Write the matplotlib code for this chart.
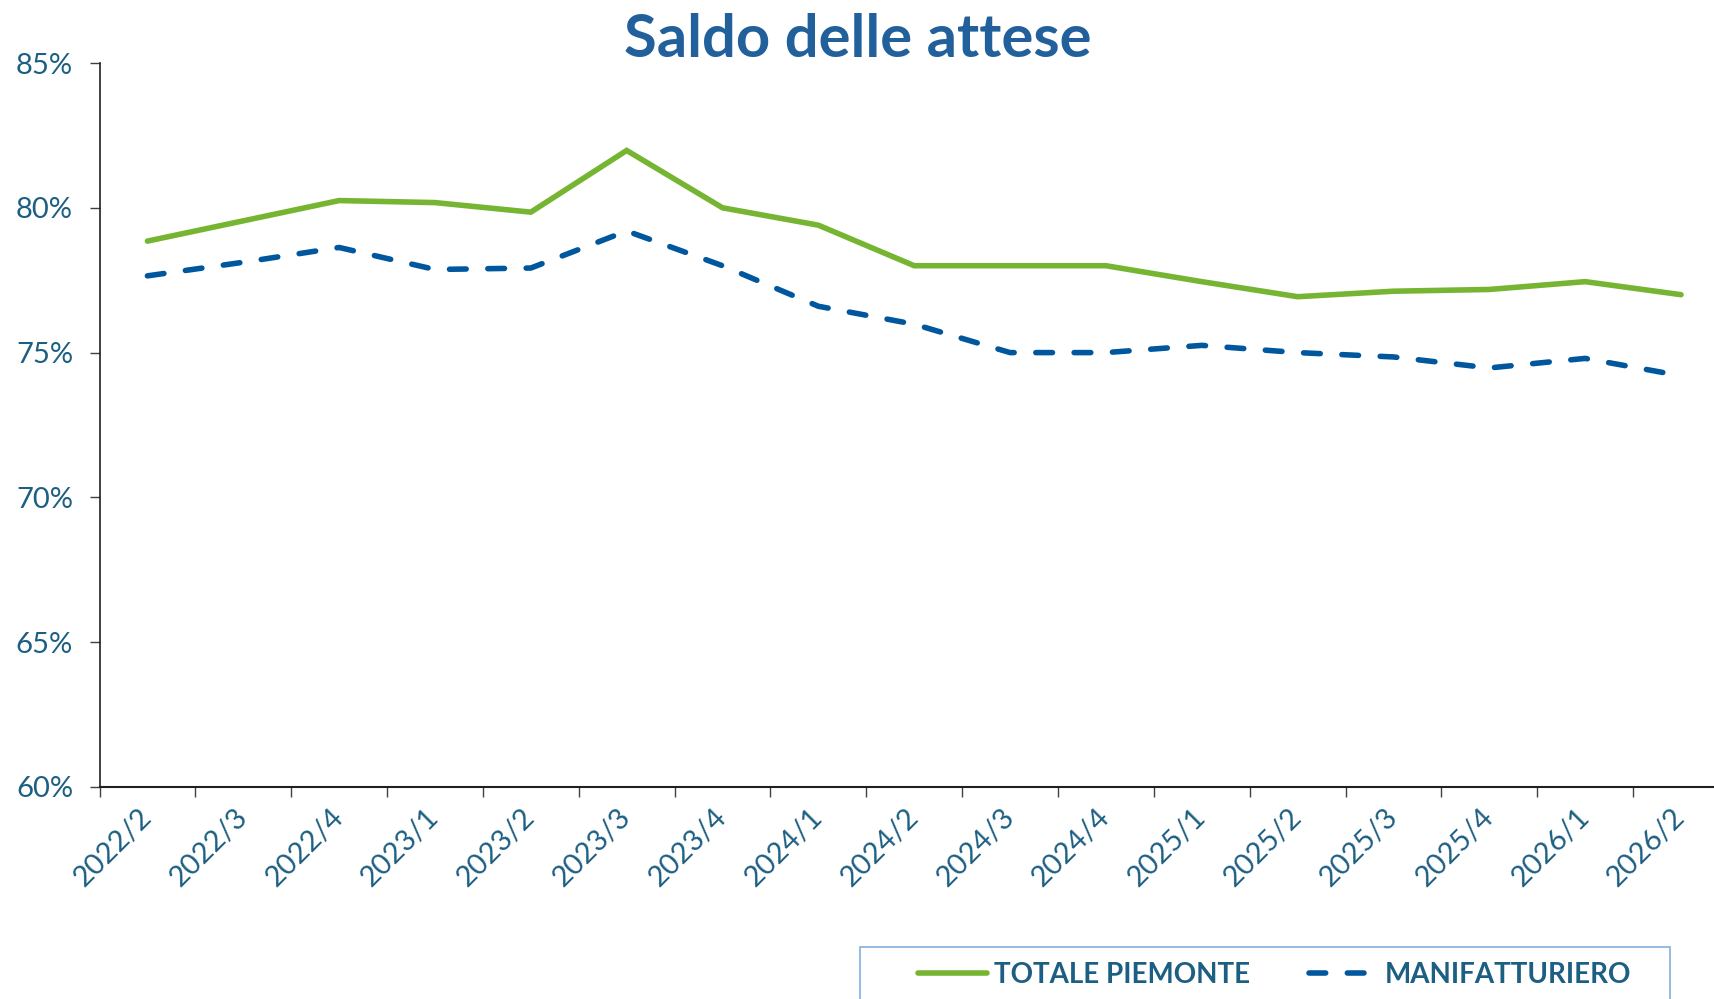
import matplotlib
matplotlib.use("Agg")
import matplotlib.pyplot as plt
from matplotlib.patches import Rectangle
from matplotlib.ticker import FuncFormatter

categories = ["2022/2", "2022/3", "2022/4", "2023/1", "2023/2", "2023/3", "2023/4",
              "2024/1", "2024/2", "2024/3", "2024/4", "2025/1", "2025/2", "2025/3",
              "2025/4", "2026/1", "2026/2"]
totale_piemonte = [78.85, 79.55, 80.25, 80.18, 79.85, 81.98, 80.0, 79.4, 78.0, 78.0,
                   78.0, 77.45, 76.93, 77.12, 77.18, 77.45, 77.0]
manifatturiero = [77.65, 78.12, 78.63, 77.87, 77.92, 79.2, 78.0, 76.6, 75.98, 75.0,
                  75.0, 75.25, 75.0, 74.85, 74.47, 74.8, 74.2]
y_ticks = [60, 65, 70, 75, 80, 85]
series_names = ["TOTALE PIEMONTE", "MANIFATTURIERO"]
title_text = "Saldo delle attese"

plt.rcParams['font.family'] = ['Lato', 'DejaVu Sans']

W, H = 1714, 999
fig = plt.figure(figsize=(W / 100, H / 100), dpi=100)
left_px, right_px = 99.5, 99.5 + 17 * 95.85
top_px, bottom_px = 63, 787
ax = fig.add_axes([left_px / W, 1 - bottom_px / H, (right_px - left_px) / W, (bottom_px - top_px) / H])

green = "#76B531"
blue = "#00579E"
label_col = "#1D5F82"
title_col = "#22609C"

x = list(range(len(categories)))
ax.plot(x, totale_piemonte, color=green, lw=4.0, solid_capstyle='round', solid_joinstyle='miter',
        label=series_names[0], clip_on=False)
ax.plot(x, manifatturiero, color=blue, lw=4.0, dashes=(3, 3.9), dash_capstyle='round',
        label=series_names[1], clip_on=False)

ax.set_xlim(-0.5, len(categories) - 0.5)
ax.set_ylim(60, 85)
ax.set_yticks(y_ticks)
ax.yaxis.set_major_formatter(FuncFormatter(lambda v, p: f"{v:.0f}%"))

ax.set_xticks([i - 0.5 for i in range(len(categories) + 1)])
ax.set_xticklabels([])
ax.set_xticks(x, categories, minor=True)
ax.tick_params(axis='x', which='major', length=7, width=1, color='#404040', direction='out')
ax.tick_params(axis='x', which='minor', length=0, pad=19, labelsize=21, labelcolor=label_col)
for lbl in ax.get_xticklabels(minor=True):
    lbl.set_rotation(45)
    lbl.set_rotation_mode('anchor')
    lbl.set_ha('right')
    lbl.set_va('center')
ax.tick_params(axis='y', length=7, width=1, color='#404040', labelsize=21, labelcolor=label_col, pad=12)

for s in ['top', 'right']:
    ax.spines[s].set_visible(False)
ax.spines['left'].set_color('#202020')
ax.spines['bottom'].set_color('#202020')
ax.spines['left'].set_linewidth(1.2)
ax.spines['bottom'].set_linewidth(1.5)

fig.text(858 / W, 1 - 40 / H, title_text, ha='center', va='center', fontsize=43,
         fontweight='bold', color=title_col)

# legend frame
fig.patches.append(Rectangle((860 / W, 1 - 1010 / H), (1670 - 860) / W, (1010 - 947) / H,
                             transform=fig.transFigure, fill=False, edgecolor='#8DB4E2',
                             linewidth=1.3, figure=fig))
h, l = ax.get_legend_handles_labels()
leg = fig.legend(h, l, loc='center left', bbox_to_anchor=(918 / W, 1 - 975 / H), ncol=2,
                 frameon=False, borderpad=0, borderaxespad=0, handlelength=2.5,
                 handletextpad=0.25, columnspacing=2.1,
                 prop={'weight': 'bold', 'size': 20})
for t in leg.get_texts():
    t.set_color(label_col)

fig.savefig("out.png", dpi=100)
